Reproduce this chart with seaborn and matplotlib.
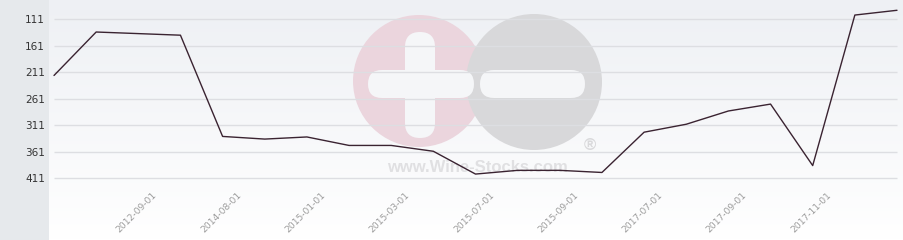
import numpy as np
import pandas as pd
import matplotlib
matplotlib.use("Agg")
import matplotlib.pyplot as plt
import seaborn as sns
from matplotlib.patches import Circle, FancyBboxPatch
from matplotlib.transforms import ScaledTranslation

# ---- data ----
ranks = [217, 135, 138, 141, 332, 337, 333, 349, 349, 360, 403,
         396, 396, 400, 324, 309, 284, 271, 387, 103, 94]
tick_labels = ["2012-09-01", "2014-08-01", "2015-01-01", "2015-03-01",
               "2015-07-01", "2015-09-01", "2017-07-01", "2017-09-01",
               "2017-11-01"]
y_ticks = [111, 161, 211, 261, 311, 361, 411]

df = pd.DataFrame({"idx": np.arange(len(ranks)), "rank": ranks})

sns.set_theme(style="white")
plt.rcParams["font.family"] = ["DejaVu Sans"]

W, H = 904, 240
fig = plt.figure(figsize=(W / 100, H / 100), dpi=100)

# ---- background + watermark (pixel coordinates) ----
bg = fig.add_axes([0, 0, 1, 1])
bg.set_xlim(0, W)
bg.set_ylim(H, 0)
bg.axis("off")
top = np.array([0xee, 0xf0, 0xf4]) / 255
bot = np.array([1.0, 1.0, 1.0])
t = np.linspace(0, 1, H)[:, None]
grad = top * (1 - t) + bot * t
img = np.repeat(grad[:, None, :], W, axis=1)
img[:, :49, :] = np.array([0xe6, 0xe9, 0xec]) / 255
bg.imshow(img, extent=(0, W, H, 0), aspect="auto", zorder=0)

pink = "#ebd5dd"
grey = "#d8d8da"
hole = "#f5f6f8"


def bar(x0, y0, w, h, z=3):
    r = min(w, h) / 2
    bg.add_patch(FancyBboxPatch((x0, y0), w, h,
                                boxstyle=f"round,pad=0,rounding_size={r}",
                                color=hole, lw=0, zorder=z))


bg.add_patch(Circle((419, 81), 66, color=pink, lw=0, zorder=1))
bg.add_patch(Circle((534, 82), 68, color=grey, lw=0, zorder=2))
bar(368, 70, 106, 28)
bar(405, 32, 30, 106)
bar(480, 70, 105, 28)
bg.text(477, 167, "www.Wine-Stocks.com", ha="center", va="center",
        fontsize=12, fontweight="bold", color="#e0e0e2",
        family=["Liberation Sans", "DejaVu Sans"], zorder=4)
bg.text(590, 145, "®", ha="center", va="center", fontsize=12,
        fontweight="bold", color="#d9d9db",
        family=["Liberation Sans", "DejaVu Sans"], zorder=4)

# ---- main axes ----
ax = fig.add_axes([49 / W, (H - 188) / H, (W - 49) / W, 188 / H])
ax.patch.set_alpha(0)
n = len(ranks)
px_per_idx = 42.15
ax.set_xlim(-5 / px_per_idx, (W - 54) / px_per_idx)
ax.set_ylim(429.3, 74.6)

ax.hlines(y_ticks, 0, n - 1, colors="#dddee2", linewidth=1, zorder=1)
sns.lineplot(data=df, x="idx", y="rank", ax=ax, color="#3a2331",
             linewidth=1.0, zorder=3)

for s in ax.spines.values():
    s.set_visible(False)
ax.set_xlabel("")
ax.set_ylabel("")
ax.set_yticks(y_ticks)
ax.set_yticklabels([str(v) for v in y_ticks], fontsize=7.5, color="#333333")
ax.set_xticks(list(range(2, 19, 2)))
ax.set_xticklabels(tick_labels, fontsize=6.6, color="#9c9c9c",
                   rotation=45, ha="right", va="center",
                   rotation_mode="anchor")
ax.tick_params(axis="y", length=0, pad=3)
ax.tick_params(axis="x", length=0, pad=4)
off = ScaledTranslation(17 / 100, 0, fig.dpi_scale_trans)
for lab in ax.get_xticklabels():
    lab.set_transform(lab.get_transform() + off)

fig.savefig("out.png", dpi=100)
